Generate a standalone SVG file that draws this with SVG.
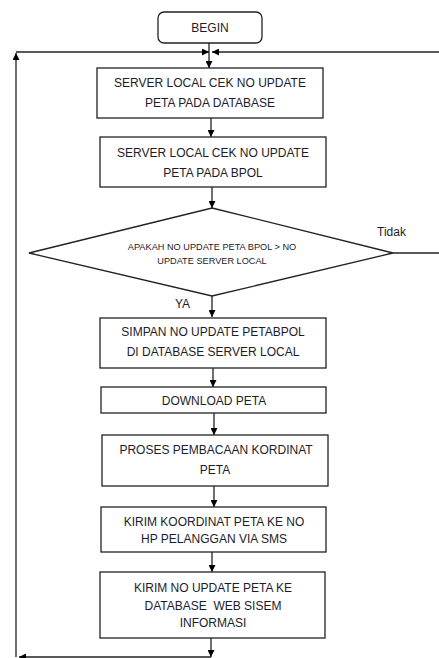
<svg xmlns="http://www.w3.org/2000/svg" width="439" height="658" viewBox="0 0 439 658">
<defs>
<marker id="ah" viewBox="0 0 10 10" refX="10" refY="5" markerWidth="7" markerHeight="7" markerUnits="userSpaceOnUse" orient="auto">
<path d="M0,0 L10,5 L0,10 Z" fill="#000"/>
</marker>
</defs>
<style>
.box{fill:#fff;stroke:#222;stroke-width:1.3}
.ln{fill:none;stroke:#222;stroke-width:1.3}
.arr{fill:none;stroke:#222;stroke-width:1.3;marker-end:url(#ah)}
text{font-family:"Liberation Sans",Arial,sans-serif;font-size:12px;fill:#1c1c2a;text-anchor:middle;dominant-baseline:central}
.sm{font-size:9.2px}
.lbl{text-anchor:start}
</style>
<rect width="439" height="658" fill="#fff"/>
<g id="connectors">
<line class="arr" x1="209" y1="43" x2="209" y2="68"/>
<line class="arr" x1="16" y1="52" x2="209" y2="52"/>
<line class="arr" x1="439" y1="52" x2="212" y2="52"/>
<line class="arr" x1="16" y1="657" x2="16" y2="53"/>
<line class="arr" x1="211" y1="118" x2="211" y2="137"/>
<line class="arr" x1="212" y1="187" x2="212" y2="208"/>
<line class="ln" x1="393" y1="253" x2="439" y2="253"/>
<line class="arr" x1="212" y1="296" x2="212" y2="317"/>
<line class="arr" x1="213" y1="368" x2="213" y2="387"/>
<line class="arr" x1="214" y1="413" x2="214" y2="435"/>
<line class="arr" x1="214" y1="486" x2="214" y2="507"/>
<line class="arr" x1="212" y1="552" x2="212" y2="572"/>
<line class="arr" x1="211" y1="638" x2="211" y2="657"/>
<line class="arr" x1="211" y1="657" x2="19" y2="657"/>
<text class="lbl" x="377" y="232">Tidak</text>
<text class="lbl" x="175" y="304">YA</text>
</g>
<g id="begin">
<rect class="box" x="158" y="12" width="104" height="31" rx="6"/>
<text x="210" y="28">BEGIN</text>
</g>
<g id="n1">
<rect class="box" x="97" y="68" width="226" height="50"/>
<text x="210" y="83">SERVER LOCAL CEK NO UPDATE</text>
<text x="210" y="103">PETA PADA DATABASE</text>
</g>
<g id="n2">
<rect class="box" x="100" y="137" width="226" height="50"/>
<text x="213" y="153">SERVER LOCAL CEK NO UPDATE</text>
<text x="213" y="173">PETA PADA BPOL</text>
</g>
<g id="decision">
<polygon class="box" points="212,208 393,253 212,296 29,253"/>
<text class="sm" x="212" y="247">APAKAH NO UPDATE PETA BPOL &gt; NO</text>
<text class="sm" x="212" y="261">UPDATE SERVER LOCAL</text>
</g>
<g id="n3">
<rect class="box" x="100" y="318" width="226" height="50"/>
<text x="213" y="332">SIMPAN NO UPDATE PETABPOL</text>
<text x="213" y="352">DI DATABASE SERVER LOCAL</text>
</g>
<g id="n4">
<rect class="box" x="101" y="387" width="225" height="26"/>
<text x="214" y="401">DOWNLOAD PETA</text>
</g>
<g id="n5">
<rect class="box" x="102" y="435" width="226" height="51"/>
<text x="216" y="450">PROSES PEMBACAAN KORDINAT</text>
<text x="215" y="470">PETA</text>
</g>
<g id="n6">
<rect class="box" x="101" y="507" width="225" height="45"/>
<text x="214" y="522">KIRIM KOORDINAT PETA KE NO</text>
<text x="214" y="539">HP PELANGGAN VIA SMS</text>
</g>
<g id="n7">
<rect class="box" x="100" y="572" width="225" height="66"/>
<text x="213" y="588">KIRIM NO UPDATE PETA KE</text>
<text x="213" y="606" xml:space="preserve">DATABASE  WEB SISEM</text>
<text x="213" y="623">INFORMASI</text>
</g>
</svg>
